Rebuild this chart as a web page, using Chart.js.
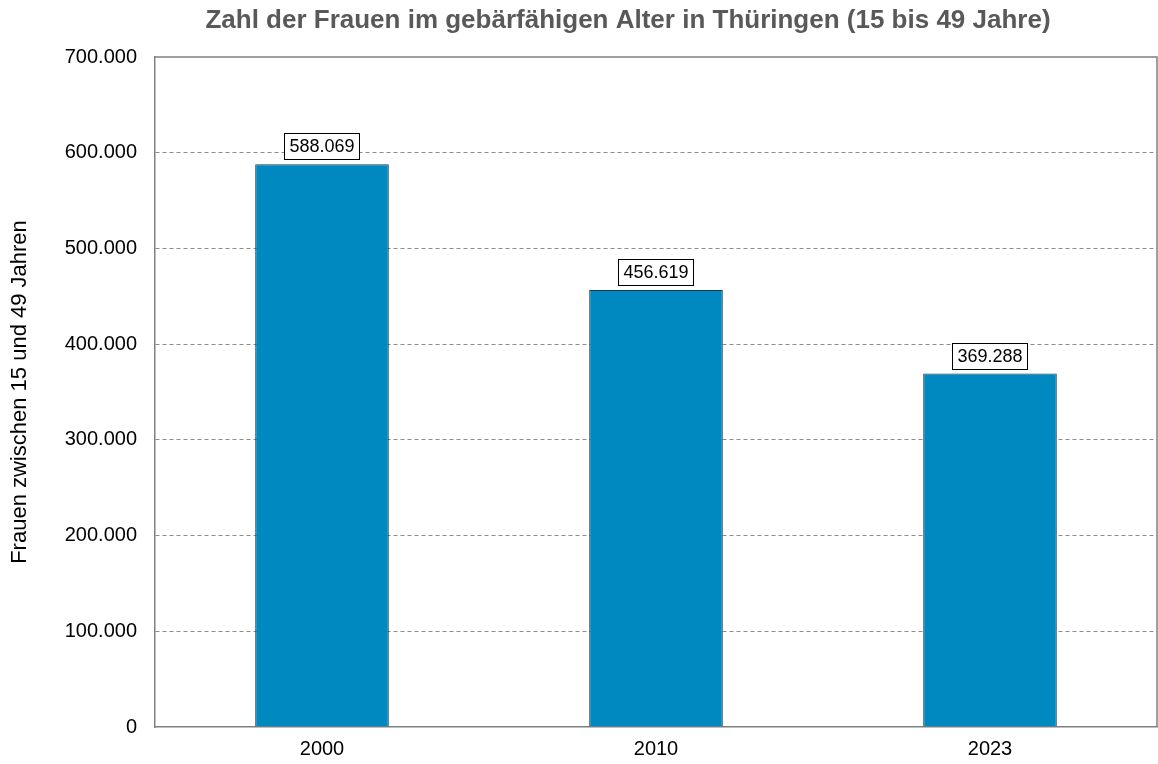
<!DOCTYPE html>
<html>
<head>
<meta charset="utf-8">
<script src="https://cdn.jsdelivr.net/npm/chart.js@4/dist/chart.umd.min.js"></script>
<style>
  html, body { margin: 0; padding: 0; background: #fff; }
  #wrap { width: 1158px; height: 764px; }
</style>
</head>
<body>
<div id="wrap"><canvas id="c" width="1158" height="764"></canvas></div>
<script>
const jahre = ['2000', '2010', '2023']
const frauen = [588069, 456619, 369288]
const titel = 'Zahl der Frauen im gebärfähigen Alter in Thüringen (15 bis 49 Jahre)'
const achsenTitel = 'Frauen zwischen 15 und 49 Jahren'

function punkt(n) {
  return String(Math.round(n)).replace(/\B(?=(\d{3})+(?!\d))/g, '.')
}

// titel, rahmen oben/rechts + wertelabels
const extras = {
  id: 'extras',
  afterDatasetsDraw(chart) {
    const { ctx, chartArea: a } = chart
    ctx.save()
    ctx.strokeStyle = '#808080'
    ctx.lineWidth = 1.5
    ctx.beginPath()
    ctx.moveTo(a.left, a.top)
    ctx.lineTo(a.right, a.top)
    ctx.lineTo(a.right, a.bottom)
    ctx.stroke()

    // titel leicht nach rechts versetzt, wie im original
    ctx.font = 'bold 26px "Liberation Sans", Arial, sans-serif'
    ctx.fillStyle = '#595959'
    ctx.textAlign = 'center'
    ctx.textBaseline = 'middle'
    ctx.fillText(titel, (a.left + a.right) / 2 - 28, 21)

    ctx.font = '18px "Liberation Sans", Arial, sans-serif'
    chart.getDatasetMeta(0).data.forEach((bar, i) => {
      const txt = punkt(frauen[i])
      const w = ctx.measureText(txt).width + 10
      const h = 26
      const x = bar.x
      const y = bar.y - 5 - h / 2
      ctx.fillStyle = '#fff'
      ctx.fillRect(x - w / 2, y - h / 2, w, h)
      ctx.strokeStyle = '#000'
      ctx.lineWidth = 1
      ctx.strokeRect(Math.round(x - w / 2) + 0.5, Math.round(y - h / 2) + 0.5, Math.round(w), h)
      ctx.fillStyle = '#000'
      ctx.fillText(txt, x, y + 1)
    })
    ctx.restore()
  }
}

new Chart(document.getElementById('c'), {
  type: 'bar',
  data: {
    labels: jahre,
    datasets: [
      {
        label: 'Frauen',
        data: frauen,
        backgroundColor: '#0089C1',
        borderColor: '#1d3a48',
        borderWidth: 1,
        borderSkipped: 'bottom',
        categoryPercentage: 1,
        barPercentage: 0.4
      }
    ]
  },
  options: {
    responsive: false,
    animation: false,
    layout: { padding: { top: 57, right: 1, left: 0, bottom: 0 } },
    plugins: {
      legend: { display: false },
      tooltip: { enabled: false },
      title: { display: false }
    },
    scales: {
      x: {
        grid: { display: false, drawTicks: false },
        border: { color: '#808080', width: 1.5 },
        ticks: {
          color: '#000',
          padding: 10,
          font: { family: '"Liberation Sans", Arial, sans-serif', size: 20 }
        },
        afterFit(s) { s.height = 37 }
      },
      y: {
        min: 0,
        max: 700000,
        ticks: {
          stepSize: 100000,
          color: '#000',
          padding: 18,
          font: { family: '"Liberation Sans", Arial, sans-serif', size: 20 },
          callback: v => punkt(v)
        },
        grid: {
          color: ctx => (ctx.tick.value === 0 || ctx.tick.value === 700000) ? 'rgba(0,0,0,0)' : '#8c8c8c',
          lineWidth: 1,
          drawTicks: false
        },
        border: { color: '#808080', width: 1.5, dash: [4, 3] },
        title: {
          display: true,
          text: achsenTitel,
          color: '#000',
          font: { family: '"Liberation Sans", Arial, sans-serif', size: 22 },
          padding: { top: 7, bottom: 0 }
        },
        afterFit(s) { s.width = 155 }
      }
    }
  },
  plugins: [extras]
})
</script>
</body>
</html>
